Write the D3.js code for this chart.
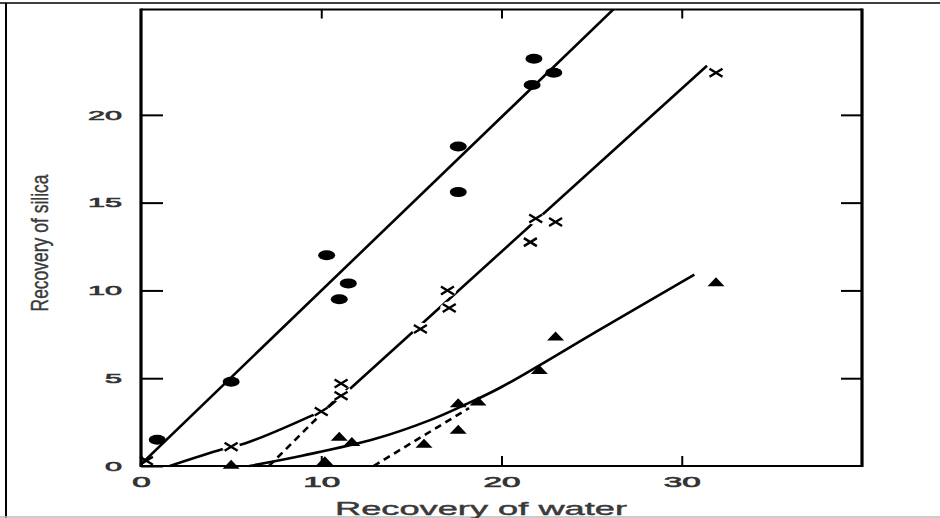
<!DOCTYPE html>
<meta charset="utf-8">
<style>
    body { margin: 0; background: #fff; }
    .axis text { fill: #333; stroke: #333; stroke-width: 0.6; font-family: "Liberation Sans", Arial, sans-serif; }
    .axis line { stroke: #000; stroke-width: 2; }
    .fit { fill: none; stroke: #000; stroke-width: 2.6; }
    .title { fill: #3a3a3a; stroke: #3a3a3a; stroke-width: 0.4; font-family: "Liberation Sans", Arial, sans-serif; }
</style>
<svg width="940" height="518"></svg>
<script src="https://d3js.org/d3.v7.min.js"></script>
<script>

    var xTicks = [0, 10, 20, 30];
    var yTicks = [0, 5, 10, 15, 20];

    // measured points [water, silica]
    var circlePts = [[0.9, 1.5], [5.0, 4.8], [10.3, 12.0], [11.0, 9.5], [11.5, 10.4],
        [17.6, 18.2], [17.6, 15.6], [21.8, 23.2], [21.7, 21.7], [22.9, 22.4]];
    var crossPts = [[0.3, 0.3], [5.0, 1.1], [10.0, 3.1], [11.1, 4.0], [11.1, 4.7],
        [15.5, 7.8], [17.0, 10.0], [17.1, 9.0], [21.6, 12.75], [21.9, 14.1], [23.0, 13.9], [31.9, 22.4]];
    var trianglePts = [[5.0, 0.1], [10.2, 0.3], [11.0, 1.7], [11.7, 1.4], [15.7, 1.3],
        [17.6, 3.6], [18.7, 3.7], [17.6, 2.1], [22.1, 5.5], [23.0, 7.4], [31.9, 10.5]];

    // fitted lines
    var circleFit = [[0, 0.1], [26.3, 26.1]];
    var crossFit = [[11.6, 4.4], [31.4, 22.8]];
    var crossCurve = [[1.6, 0], [4.5, 0.95], [5.8, 1.3], [9.1, 2.7], [10.3, 3.3], [11.3, 4.2]];
    var crossDash = [[7.1, 0], [11.5, 4.5]];
    var triCurve = [[6.0, 0], [9.0, 0.6], [13.0, 1.55], [16.0, 2.6], [18.0, 3.5], [20.0, 4.5], [25.5, 7.8], [30.7, 10.9]];
    var triDash = [[12.9, 0], [18.2, 3.3]];

    var svg = d3.select("svg");

    var x = d3.scaleLinear().domain([0, 40]).range([141, 862]);
    var y = d3.scaleLinear().domain([0, 26]).range([466, 9.5]);

    // outer frame of the picture
    svg.append("line").attr("x1", 0).attr("x2", 940).attr("y1", 3).attr("y2", 3)
        .attr("stroke", "#000").attr("stroke-width", 1.6);
    svg.append("line").attr("x1", 6).attr("x2", 6).attr("y1", 3).attr("y2", 518)
        .attr("stroke", "#000").attr("stroke-width", 2);
    svg.append("line").attr("x1", 0).attr("x2", 940).attr("y1", 517).attr("y2", 517)
        .attr("stroke", "#bbb").attr("stroke-width", 1.5);

    svg.append("clipPath").attr("id", "plot")
        .append("rect").attr("x", 141).attr("y", 9.5).attr("width", 721).attr("height", 456.5);

    var g = svg.append("g");
    var line = d3.line().x(function (d) { return x(d[0]); }).y(function (d) { return y(d[1]); });
    var smooth = d3.line().curve(d3.curveCatmullRom.alpha(0.5))
        .x(function (d) { return x(d[0]); }).y(function (d) { return y(d[1]); });

    g.append("path").attr("class", "fit").attr("clip-path", "url(#plot)")
        .attr("stroke-width", 3).attr("d", line(circleFit));
    g.append("path").attr("class", "fit").attr("d", line(crossFit));
    g.append("path").attr("class", "fit").attr("d", smooth(crossCurve));
    g.append("path").attr("class", "fit").attr("stroke-dasharray", "7,5").attr("d", line(crossDash));
    g.append("path").attr("class", "fit").attr("d", smooth(triCurve));
    g.append("path").attr("class", "fit").attr("stroke-dasharray", "7,5").attr("d", line(triDash));

    // white gaps around crosses
    g.selectAll(".halo").data(crossPts.filter(function (d) { return d[0] > 1; }))
        .enter().append("ellipse")
        .attr("cx", function (d) { return x(d[0]); })
        .attr("cy", function (d) { return y(d[1]); })
        .attr("rx", 9).attr("ry", 6.5)
        .attr("fill", "#fff");

    g.selectAll(".dot").data(circlePts)
        .enter().append("ellipse")
        .attr("cx", function (d) { return x(d[0]); })
        .attr("cy", function (d) { return y(d[1]); })
        .attr("rx", 8.5).attr("ry", 5)
        .attr("fill", "#000");

    g.selectAll(".cross").data(crossPts)
        .enter().append("path")
        .attr("transform", function (d) { return "translate(" + x(d[0]) + "," + y(d[1]) + ")"; })
        .attr("d", "M-6.5,-4L6.5,4M-6.5,4L6.5,-4")
        .attr("stroke", "#000").attr("stroke-width", 2.4).attr("fill", "none");

    g.selectAll(".tri").data(trianglePts)
        .enter().append("path")
        .attr("transform", function (d) { return "translate(" + x(d[0]) + "," + y(d[1]) + ")"; })
        .attr("d", "M-8.5,4.5L0,-4.5L8.5,4.5Z")
        .attr("fill", "#000");

    // axes with inward ticks
    function stretch(sel, perChar) {
        sel.selectAll("text")
            .attr("textLength", function () { return this.textContent.length * perChar; })
            .attr("lengthAdjust", "spacingAndGlyphs");
    }

    var bottom = svg.append("g").attr("class", "axis").attr("transform", "translate(0,466)")
        .call(d3.axisBottom(x).tickValues(xTicks).tickSizeInner(-10).tickSizeOuter(0).tickPadding(11));
    bottom.selectAll("text").style("font-size", "14px");
    stretch(bottom, 18.5);

    var top = svg.append("g").attr("class", "axis").attr("transform", "translate(0,9.5)")
        .call(d3.axisTop(x).tickValues(xTicks.slice(1)).tickSizeInner(-9).tickSizeOuter(0).tickFormat(""));

    var left = svg.append("g").attr("class", "axis").attr("transform", "translate(141,0)")
        .call(d3.axisLeft(y).tickValues(yTicks).tickSizeInner(-22).tickSizeOuter(0).tickPadding(19));
    left.selectAll("text").style("font-size", "13px");
    stretch(left, 17);

    var right = svg.append("g").attr("class", "axis").attr("transform", "translate(862,0)")
        .call(d3.axisRight(y).tickValues(yTicks.slice(1)).tickSizeInner(-21).tickSizeOuter(0).tickFormat(""));

    svg.selectAll(".axis .domain").remove();

    // plot frame
    svg.append("line").attr("x1", 141).attr("x2", 141).attr("y1", 8.5).attr("y2", 467)
        .attr("stroke", "#000").attr("stroke-width", 3.2);
    svg.append("line").attr("x1", 862).attr("x2", 862).attr("y1", 8.5).attr("y2", 467)
        .attr("stroke", "#000").attr("stroke-width", 3.2);
    svg.append("line").attr("x1", 141).attr("x2", 862).attr("y1", 9.5).attr("y2", 9.5)
        .attr("stroke", "#000").attr("stroke-width", 2);
    svg.append("line").attr("x1", 141).attr("x2", 862).attr("y1", 466).attr("y2", 466)
        .attr("stroke", "#000").attr("stroke-width", 2.2);

    svg.append("text").attr("class", "title")
        .attr("x", 335).attr("y", 515)
        .attr("textLength", 292).attr("lengthAdjust", "spacingAndGlyphs")
        .style("font-size", "18px")
        .text("Recovery of water");

    svg.append("text").attr("class", "title")
        .attr("transform", "translate(48,243) rotate(-90)")
        .attr("text-anchor", "middle")
        .attr("textLength", 137).attr("lengthAdjust", "spacingAndGlyphs")
        .style("font-size", "24px")
        .text("Recovery of silica");

</script>
